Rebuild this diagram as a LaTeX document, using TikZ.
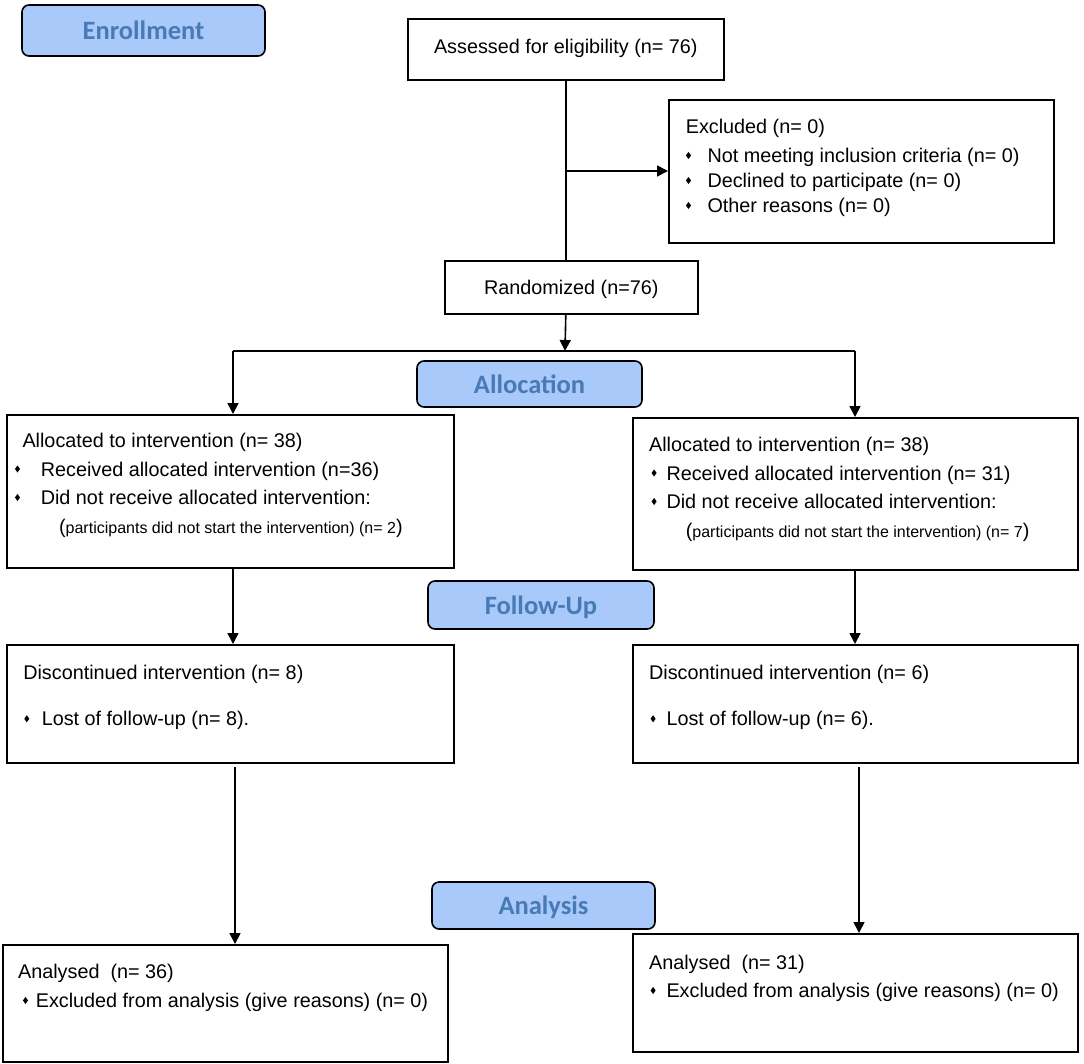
\documentclass[tikz,border=0pt]{standalone}
\usepackage{fontspec}
\setmainfont{Liberation Sans}
\newfontfamily\lblfont{Carlito}
\usetikzlibrary{arrows.meta}
\definecolor{lblfill}{RGB}{168,201,249}
\definecolor{lbltext}{RGB}{72,122,182}
% width, height, leftskip, first baseline, baselineskip, content
\newcommand\bx[6]{\parbox[t][#2][t]{#1}{\fontsize{19.8pt}{#5}\selectfont\raggedright\leftskip=#3\relax\rule{0pt}{#4}#6}}
% bullet centre offset, text offset
\newcommand\bul[2]{\hspace*{\dimexpr#1-2.5pt\relax}\makebox[5pt][c]{\raisebox{3.5pt}{\scalebox{0.72}[1]{\rotatebox{45}{\rule{5pt}{5pt}}}}}\hspace*{\dimexpr#2-#1-2.5pt\relax}}
\newcommand\smalltxt[1]{{\fontsize{16pt}{16pt}\selectfont #1}}
\begin{document}
\begin{tikzpicture}[x=1pt,y=-1pt,
  box/.style={draw, line width=1.6pt, inner sep=0pt, anchor=north west},
  lbl/.style={draw, line width=1.6pt, fill=lblfill, rounded corners=7pt,
    font=\lblfont\bfseries\fontsize{26.5pt}{30pt}\selectfont, text=lbltext,
    text height=18pt, text depth=0pt, inner sep=0pt},
  ln/.style={line width=1.6pt},
  arr/.style={line width=1.6pt, -{Triangle[length=11pt,width=11pt]}}]
\useasboundingbox (0,0) rectangle (1084,1063);

% phase labels
\node[lbl, minimum width=243pt, minimum height=51pt] (enr) at (143.5,30.5) {Enrollment};
\node[lbl, minimum width=225pt, minimum height=46pt] (alloc) at (529.5,384) {Allocation};
\node[lbl, minimum width=226pt, minimum height=48pt] (foll) at (541,605) {Follow-Up};
\node[lbl, minimum width=223pt, minimum height=47pt] (anal) at (543.5,905.5) {Analysis};

% boxes
\node[box] (assess) at (407,18) {\bx{316pt}{61pt}{0pt}{34.3pt}{25pt}{\centering Assessed for eligibility (n= 76)}};
\node[box] (excl) at (668,99) {\bx{385pt}{143pt}{17pt}{34pt}{25pt}{Excluded (n= 0)\\[3.7pt]
  \bul{2.7pt}{21.7pt}Not meeting inclusion criteria (n= 0)\\
  \bul{2.7pt}{21.7pt}Declined to participate (n= 0)\\
  \bul{2.7pt}{21.7pt}Other reasons (n= 0)}};
\node[box] (rand) at (444,260) {\bx{253pt}{53pt}{0pt}{33.3pt}{25pt}{\centering Randomized (n=76)}};

\node[box] (alocL) at (6,414) {\bx{447pt}{153pt}{15.7pt}{32.7pt}{28.5pt}{Allocated to intervention (n= 38)\\
  \bul{-5pt}{18.3pt}Received allocated intervention (n=36)\\
  \bul{-5pt}{18.3pt}Did not receive allocated intervention:\\
  \hspace*{36.6pt}(\smalltxt{participants did not start the intervention) (n= 2})}};
\node[box] (alocR) at (632,417) {\bx{445pt}{152pt}{16.3pt}{33.7pt}{28.5pt}{Allocated to intervention (n= 38)\\
  \bul{5pt}{17.4pt}Received allocated intervention (n= 31)\\
  \bul{5pt}{17.4pt}Did not receive allocated intervention:\\
  \hspace*{36.7pt}(\smalltxt{participants did not start the intervention) (n= 7})}};

\node[box] (discL) at (6,644) {\bx{447pt}{118pt}{16.5pt}{34.3pt}{46.7pt}{Discontinued intervention (n= 8)\\
  \bul{3.5pt}{18.5pt}Lost of follow-up (n= 8).}};
\node[box] (discR) at (632,644) {\bx{445pt}{118pt}{16.3pt}{34.3pt}{46.7pt}{Discontinued intervention (n= 6)\\
  \bul{4pt}{17.4pt}Lost of follow-up (n= 6).}};

\node[box] (anaL) at (2,944) {\bx{445pt}{117pt}{15.3pt}{33.3pt}{29.4pt}{Analysed\ \ (n= 36)\\
  \bul{7.4pt}{17.7pt}Excluded from analysis (give reasons) (n= 0)}};
\node[box] (anaR) at (632,933) {\bx{445pt}{118pt}{16.3pt}{35.3pt}{28.4pt}{Analysed\ \ (n= 31)\\
  \bul{4pt}{17.4pt}Excluded from analysis (give reasons) (n= 0)}};

% connectors
\coordinate (br) at (565,171);
\coordinate (sp) at (565,351);
\coordinate (spL) at (233,351);
\coordinate (spR) at (855,351);
\coordinate (dL) at (235,767);
\coordinate (dR) at (859,767);

\draw[ln] (assess.south) -- (assess.south |- rand.north);
\draw[arr] (br) -- (br -| excl.west);
\draw[arr] (assess.south |- rand.south) -- (sp);
\draw[ln] (spL) -- (spR);
\draw[arr] (spL) -- (spL |- alocL.north);
\draw[arr] (spR) -- (spR |- alocR.north);
\draw[arr] (spL |- alocL.south) -- (spL |- discL.north);
\draw[arr] (spR |- alocR.south) -- (spR |- discR.north);
\draw[arr] (dL) -- (dL |- anaL.north);
\draw[arr] (dR) -- (dR |- anaR.north);
\end{tikzpicture}
\end{document}
